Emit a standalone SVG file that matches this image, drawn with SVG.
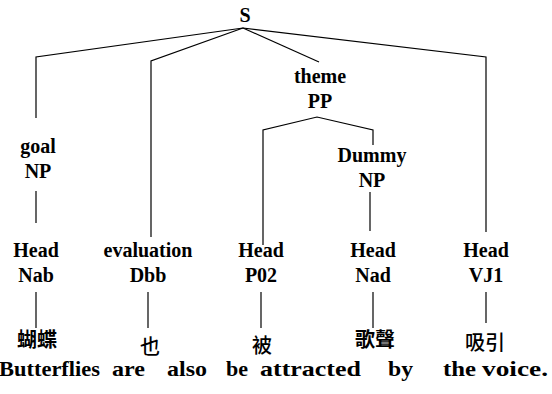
<svg xmlns="http://www.w3.org/2000/svg" width="552" height="394" viewBox="0 0 552 394">
<style>
.t{font-family:"Liberation Serif","Times New Roman",serif;font-weight:bold;font-size:20px;fill:#000;text-anchor:middle}
.e{font-family:"Liberation Serif","Times New Roman",serif;font-weight:bold;font-size:22px;fill:#000}
.c{font-family:"Noto Sans CJK TC","Noto Sans CJK SC",sans-serif;font-size:20px;font-weight:500;fill:#000;text-anchor:middle}
.cb{font-weight:bold}
.l{stroke:#000;stroke-width:1.2;fill:none}
</style>
<rect width="552" height="394" fill="#fff"/>
<g id="connectors">
<polyline class="l" points="243,28 36,57 36,118"/>
<polyline class="l" points="243,28 151,61 151,237"/>
<polyline class="l" points="243,28 319,62"/>
<polyline class="l" points="243,28 486,57 486,232"/>
<polyline class="l" points="263,245 263,130 317,117 373,130 373,145"/>
<line class="l" x1="36" y1="191" x2="36" y2="223"/>
<line class="l" x1="370" y1="192" x2="370" y2="231"/>
<line class="l" x1="36" y1="292" x2="36" y2="328"/>
<line class="l" x1="148" y1="292" x2="148" y2="328"/>
<line class="l" x1="261" y1="292" x2="261" y2="328"/>
<line class="l" x1="373" y1="292" x2="373" y2="328"/>
<line class="l" x1="486" y1="292" x2="486" y2="323"/>
</g>
<g id="S"><text class="t" x="245" y="22">S</text></g>
<g id="themePP"><text class="t" x="320" y="83">theme</text><text class="t" x="320" y="108">PP</text></g>
<g id="goalNP"><text class="t" x="38" y="153">goal</text><text class="t" x="38" y="178">NP</text></g>
<g id="dummyNP"><text class="t" x="372" y="162">Dummy</text><text class="t" x="372" y="187">NP</text></g>
<g id="headNab"><text class="t" x="36" y="257">Head</text><text class="t" x="36" y="282">Nab</text></g>
<g id="evalDbb"><text class="t" x="148" y="257">evaluation</text><text class="t" x="148" y="282">Dbb</text></g>
<g id="headP02"><text class="t" x="261" y="257">Head</text><text class="t" x="261" y="282">P02</text></g>
<g id="headNad"><text class="t" x="373" y="257">Head</text><text class="t" x="373" y="282">Nad</text></g>
<g id="headVJ1"><text class="t" x="486" y="257">Head</text><text class="t" x="486" y="282">VJ1</text></g>
<g id="w1"><text class="c cb" x="37" y="347">蝴蝶</text></g>
<g id="w2"><text class="c" x="150" y="354">也</text></g>
<g id="w3"><text class="c" x="262" y="353">被</text></g>
<g id="w4"><text class="c cb" x="375" y="347">歌聲</text></g>
<g id="w5"><text class="c" x="485" y="350">吸引</text></g>
<g id="english">
<text class="e" x="-1" y="376" textLength="101" lengthAdjust="spacingAndGlyphs">Butterflies</text>
<text class="e" x="112" y="376" textLength="33" lengthAdjust="spacingAndGlyphs">are</text>
<text class="e" x="167" y="376" textLength="40" lengthAdjust="spacingAndGlyphs">also</text>
<text class="e" x="226" y="376" textLength="22" lengthAdjust="spacingAndGlyphs">be</text>
<text class="e" x="260" y="376" textLength="101" lengthAdjust="spacingAndGlyphs">attracted</text>
<text class="e" x="388" y="376" textLength="25" lengthAdjust="spacingAndGlyphs">by</text>
<text class="e" x="443" y="376" textLength="33" lengthAdjust="spacingAndGlyphs">the</text>
<text class="e" x="482" y="376" textLength="66" lengthAdjust="spacingAndGlyphs">voice.</text>
</g>
</svg>
